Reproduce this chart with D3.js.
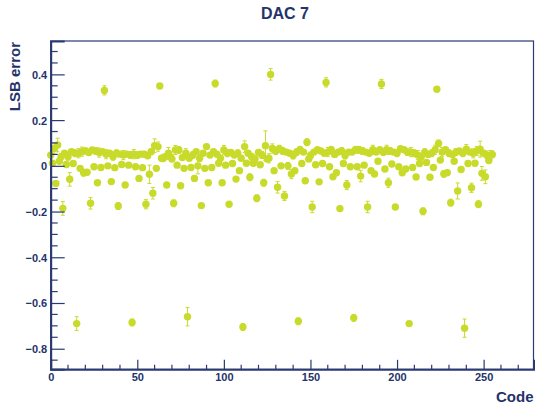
<!DOCTYPE html>
<html>
<head>
<meta charset="utf-8">
<script src="https://cdn.jsdelivr.net/npm/d3@7"></script>
<style>
  body { margin: 0; background: #fff; }
  svg { display: block; }
  text { font-family: "Liberation Sans", Arial, sans-serif; font-weight: bold; fill: #24336a; }
</style>
</head>
<body>
<div id="chart"></div>
<script>
// DNL of DAC 7, one value per code (0..255), in LSB
var lsbError = [
  0.047, 0.011, 0.076, -0.077, 0.091, 0.020, 0.040, -0.186, 0.055, 0.006, 0.040, -0.059, 0.062, 0.010, 0.055, -0.690,
  0.055, -0.011, 0.062, -0.030, 0.066, -0.028, 0.058, -0.164, 0.069, -0.004, 0.065, -0.074, 0.058, -0.007, 0.062, 0.330,
  0.051, 0.000, 0.055, -0.069, 0.040, -0.008, 0.055, -0.176, 0.051, 0.006, 0.047, -0.084, 0.051, 0.003, 0.047, -0.685,
  0.051, -0.004, 0.047, -0.055, 0.051, -0.008, 0.051, -0.168, 0.044, -0.037, 0.062, -0.120, 0.088, -0.011, 0.084, 0.349,
  0.033, 0.033, 0.040, -0.084, 0.055, 0.040, 0.030, -0.164, 0.069, 0.003, 0.069, -0.087, 0.036, -0.011, 0.055, -0.660,
  0.033, -0.007, 0.047, -0.055, 0.062, 0.000, 0.033, -0.174, 0.055, -0.011, 0.084, -0.074, 0.047, -0.007, 0.062, 0.360,
  0.051, 0.011, 0.033, -0.074, 0.069, 0.003, 0.055, -0.168, 0.058, 0.010, 0.047, -0.058, 0.055, -0.021, 0.033, -0.705,
  0.084, 0.011, 0.055, -0.050, 0.040, 0.011, 0.030, -0.142, 0.058, 0.005, 0.047, -0.074, 0.088, 0.030, 0.033, 0.400,
  0.076, -0.021, 0.065, -0.094, 0.075, 0.000, 0.065, -0.132, 0.060, 0.000, 0.055, -0.036, 0.045, -0.021, 0.060, -0.680,
  0.070, 0.010, 0.060, -0.065, 0.103, 0.030, 0.045, -0.180, 0.060, 0.005, 0.070, -0.070, 0.065, 0.010, 0.055, 0.365,
  0.060, -0.004, 0.070, -0.048, 0.050, -0.030, 0.060, -0.187, 0.065, 0.010, 0.045, -0.084, 0.060, -0.004, 0.060, -0.665,
  0.070, -0.004, 0.070, -0.045, 0.065, 0.003, 0.060, -0.180, 0.055, -0.021, 0.070, -0.036, 0.060, 0.020, 0.070, 0.358,
  0.060, -0.014, 0.070, -0.074, 0.065, 0.008, 0.060, -0.180, 0.055, -0.004, 0.075, -0.030, 0.070, -0.014, 0.060, -0.690,
  0.060, -0.007, 0.055, -0.049, 0.047, 0.010, 0.040, -0.199, 0.060, 0.015, 0.050, -0.050, 0.055, -0.007, 0.070, 0.335,
  0.098, 0.025, 0.060, -0.035, 0.070, -0.030, 0.055, -0.161, 0.050, 0.020, 0.060, -0.110, 0.065, -0.016, 0.055, -0.710,
  0.073, 0.010, 0.060, -0.096, 0.055, 0.011, 0.065, -0.168, 0.073, -0.033, 0.055, -0.048, 0.045, 0.023, 0.047, 0.050
];
// statistical error on each code
var lsbErrorErr = [
  0.012, 0.010, 0.025, 0.010, 0.030, 0.010, 0.012, 0.030, 0.010, 0.010, 0.015, 0.030, 0.010, 0.010, 0.015, 0.030,
  0.020, 0.010, 0.020, 0.015, 0.010, 0.010, 0.012, 0.025, 0.010, 0.010, 0.015, 0.010, 0.020, 0.010, 0.010, 0.020,
  0.020, 0.010, 0.010, 0.010, 0.015, 0.010, 0.015, 0.015, 0.010, 0.010, 0.020, 0.010, 0.010, 0.010, 0.015, 0.015,
  0.020, 0.010, 0.015, 0.010, 0.010, 0.010, 0.012, 0.020, 0.010, 0.040, 0.010, 0.025, 0.030, 0.010, 0.020, 0.010,
  0.010, 0.015, 0.010, 0.010, 0.025, 0.010, 0.010, 0.015, 0.020, 0.010, 0.015, 0.010, 0.010, 0.010, 0.020, 0.040,
  0.010, 0.010, 0.015, 0.010, 0.010, 0.035, 0.015, 0.010, 0.010, 0.010, 0.010, 0.010, 0.010, 0.010, 0.010, 0.015,
  0.010, 0.010, 0.010, 0.010, 0.020, 0.010, 0.015, 0.010, 0.010, 0.010, 0.010, 0.010, 0.015, 0.010, 0.010, 0.015,
  0.025, 0.010, 0.010, 0.015, 0.015, 0.010, 0.010, 0.015, 0.010, 0.010, 0.015, 0.015, 0.065, 0.010, 0.020, 0.025,
  0.020, 0.010, 0.015, 0.025, 0.015, 0.010, 0.015, 0.020, 0.010, 0.015, 0.010, 0.020, 0.015, 0.010, 0.015, 0.015,
  0.015, 0.010, 0.010, 0.010, 0.015, 0.010, 0.015, 0.025, 0.010, 0.010, 0.010, 0.010, 0.010, 0.010, 0.010, 0.020,
  0.020, 0.010, 0.015, 0.010, 0.010, 0.010, 0.010, 0.010, 0.015, 0.010, 0.015, 0.020, 0.010, 0.010, 0.010, 0.015,
  0.015, 0.010, 0.015, 0.025, 0.015, 0.010, 0.010, 0.025, 0.010, 0.010, 0.020, 0.010, 0.010, 0.010, 0.010, 0.020,
  0.015, 0.010, 0.020, 0.020, 0.015, 0.010, 0.010, 0.010, 0.015, 0.010, 0.010, 0.010, 0.010, 0.010, 0.015, 0.010,
  0.020, 0.010, 0.015, 0.010, 0.020, 0.010, 0.015, 0.015, 0.015, 0.010, 0.010, 0.010, 0.015, 0.010, 0.020, 0.010,
  0.015, 0.010, 0.020, 0.015, 0.010, 0.010, 0.015, 0.015, 0.010, 0.010, 0.015, 0.035, 0.010, 0.010, 0.015, 0.040,
  0.020, 0.010, 0.010, 0.020, 0.020, 0.010, 0.020, 0.015, 0.035, 0.030, 0.010, 0.030, 0.020, 0.010, 0.020, 0.015
];
var codes = d3.range(lsbError.length);

var xTicks = [0, 50, 100, 150, 200, 250];
var yTicks = [-0.8, -0.6, -0.4, -0.2, 0, 0.2, 0.4];
var titleText = "DAC 7";
var xTitle = "Code";
var yTitle = "LSB error";

var W = 535, H = 404;
var padL = 50.7, padR = 533.5, padT = 41, padB = 369.3;
var axisCol = "#2a3a72", markCol = "#c8db2b";

var svg = d3.select("#chart").append("svg")
    .attr("width", W).attr("height", H);

var x = d3.scaleLinear().domain([0, 278.8]).range([padL, padR]);
var y = d3.scaleLinear().domain([-0.890, 0.546]).range([padB, padT]);

// frame
svg.append("rect")
    .attr("x", padL).attr("y", padT)
    .attr("width", padR - padL).attr("height", padB - padT)
    .attr("fill", "none").attr("stroke", axisCol).attr("stroke-width", 1.2);

// error bars
var pts = svg.append("g");
pts.selectAll(".eb").data(codes).enter().append("path")
    .attr("class", "eb")
    .attr("d", function(i) {
        var cx = x(i), y0 = y(lsbError[i] - lsbErrorErr[i]), y1 = y(lsbError[i] + lsbErrorErr[i]);
        return "M" + cx + "," + y0 + "V" + y1 +
               "M" + (cx - 2) + "," + y0 + "H" + (cx + 2) +
               "M" + (cx - 2) + "," + y1 + "H" + (cx + 2);
    })
    .attr("stroke", markCol).attr("stroke-width", 1).attr("fill", "none");

pts.selectAll("circle").data(codes).enter().append("circle")
    .attr("cx", function(i) { return x(i); })
    .attr("cy", function(i) { return y(lsbError[i]); })
    .attr("r", 3.7)
    .attr("fill", markCol);

// y axis, ticks pointing into the frame
var yAxis = d3.axisRight(y).tickValues(yTicks).tickSize(14).tickFormat(function(d) { return d === 0 ? "0" : d3.format(".1f")(d); });
var gy = svg.append("g").attr("transform", "translate(" + padL + ",0)").call(yAxis);
gy.select(".domain").attr("stroke", axisCol).attr("stroke-width", 2);
gy.selectAll(".tick line").attr("stroke", axisCol).attr("stroke-width", 1.2);
gy.selectAll(".tick text").attr("x", -3.5).attr("text-anchor", "end")
    .style("font-size", "11px").attr("fill", axisCol).attr("dy", "0.36em");
var yMinor = d3.range(-17, 11).map(function(k) { return k * 0.05; })
    .filter(function(v) { return Math.round(v * 20) % 4 !== 0; });
svg.append("g").selectAll("line").data(yMinor).enter().append("line")
    .attr("x1", padL).attr("x2", padL + 7)
    .attr("y1", function(d) { return y(d); }).attr("y2", function(d) { return y(d); })
    .attr("stroke", axisCol).attr("stroke-width", 1.2);

// x axis, ticks pointing up
var xAxis = d3.axisTop(x).tickValues(xTicks).tickSize(9.5).tickFormat(d3.format("d"));
var gx = svg.append("g").attr("transform", "translate(0," + padB + ")").call(xAxis);
gx.select(".domain").attr("stroke", axisCol).attr("stroke-width", 2);
gx.selectAll(".tick line").attr("stroke", axisCol).attr("stroke-width", 1.2);
gx.selectAll(".tick text").attr("y", 8).attr("dy", "0.35em")
    .style("font-size", "11px").attr("fill", axisCol);
var xMinor = d3.range(10, 280, 10).filter(function(v) { return v % 50 !== 0; });
svg.append("g").selectAll("line").data(xMinor).enter().append("line")
    .attr("x1", function(d) { return x(d); }).attr("x2", function(d) { return x(d); })
    .attr("y1", padB).attr("y2", padB - 4.5)
    .attr("stroke", axisCol).attr("stroke-width", 1.2);

// titles
svg.append("text").attr("x", 285).attr("y", 19).attr("text-anchor", "middle")
    .style("font-size", "16px").text(titleText);
svg.append("text").attr("x", 533.5).attr("y", 402).attr("text-anchor", "end")
    .style("font-size", "15px").text(xTitle);
svg.append("text").attr("transform", "translate(20,42) rotate(-90)").attr("text-anchor", "end")
    .style("font-size", "15px").text(yTitle);
</script>
</body>
</html>
